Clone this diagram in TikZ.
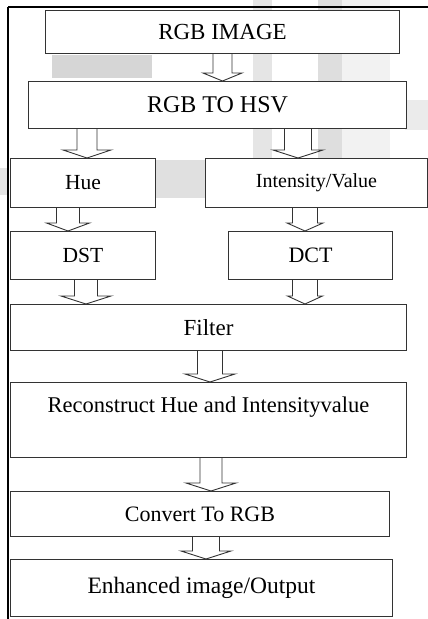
\documentclass[tikz,border=0pt]{standalone}
\usepackage{fontspec}
\setmainfont{Liberation Serif}
\usetikzlibrary{calc}
\newcommand\fs[1]{\fontsize{#1}{#1}\selectfont}
\tikzset{
  box/.style={draw=black!80, line width=1pt, fill=white, rectangle, inner sep=0pt},
  arr/.style={draw=black!80, line width=0.9pt, fill=white, line join=miter},
  wm/.style={fill=black!#1, draw=none}
}
% #1 x centre, #2 shaft half width, #3 head half width, #4 from node, #5 to node
\newcommand\hollow[5]{%
  \path (#1,0 |- #4.south) coordinate (hs) (#1,0 |- #5.north) coordinate (ht);
  \draw[arr] ($(hs)+(-#2,0)$) -- ($(ht)+(-#2,-8)$) -- ($(ht)+(-#3,-8)$) -- (ht)
     -- ($(ht)+(#3,-8)$) -- ($(ht)+(#2,-8)$) -- ($(hs)+(#2,0)$);
}
\begin{document}
\begin{tikzpicture}[x=1pt,y=-1pt]
\useasboundingbox (0,0) rectangle (428,619);
% faint watermark
\fill[wm=10] (253,0) rectangle (272,158);
\fill[wm=13] (318,0) rectangle (342,158);
\fill[wm=5] (342,0) rectangle (390,158);
\fill[wm=16] (52,55) rectangle (152,78);
\fill[wm=12] (155,160) rectangle (205,198);
\fill[wm=10] (0,168) rectangle (7,195);
\fill[wm=8] (405,100) rectangle (428,130);
% frame
\draw[line width=1.5pt] (8,7) -- (428,7);
\draw[line width=2.2pt] (8,7) -- (8,619);
% boxes
\node[box, anchor=north west, minimum width=354pt, minimum height=43pt] (img) at (45,10) {};
\node[box, anchor=north west, minimum width=378pt, minimum height=47pt] (hsv) at (28,81) {};
\node[box, anchor=north west, minimum width=145pt, minimum height=49pt] (hue) at (10,158) {};
\node[box, anchor=north west, minimum width=222pt, minimum height=49pt] (int) at (205,158) {};
\node[box, anchor=north west, minimum width=145pt, minimum height=48pt] (dst) at (10,231) {};
\node[box, anchor=north west, minimum width=164pt, minimum height=48pt] (dct) at (228,231) {};
\node[box, anchor=north west, minimum width=396pt, minimum height=46pt] (fil) at (10,304) {};
\node[box, anchor=north west, minimum width=396pt, minimum height=75pt] (rec) at (10,382) {};
\node[box, anchor=north west, minimum width=379pt, minimum height=45pt] (cnv) at (10,491) {};
\node[box, anchor=north west, minimum width=382pt, minimum height=57pt] (enh) at (10,559) {};
% texts
\node[font=\fs{23}] (timg) at (img.center) {RGB IMAGE};
\node[font=\fs{24}] (thsv) at (hsv.center) {RGB TO HSV};
\node[font=\fs{21.5}] (thue) at (hue.center) {Hue};
\node[font=\fs{20}] (tint) at (int.center) {Intensity/Value};
\node[font=\fs{21.5}] (tdst) at (dst.center) {DST};
\node[font=\fs{22}] (tdct) at (dct.center) {DCT};
\node[font=\fs{23}] (tfil) at (fil.center) {Filter};
\node[font=\fs{22.5}] (trec) at ($(rec.north)+(0,25)$) {Reconstruct Hue and Intensityvalue};
\node[font=\fs{22}] (tcnv) at (cnv.center) {Convert To RGB};
\node[font=\fs{23.5}] (tenh) at (enh.center) {Enhanced image/Output};
% hollow arrows
\hollow{222.5}{9.5}{19.5}{img}{hsv}
\hollow{87}{10}{24}{hsv}{hue}
\hollow{298}{13.5}{25}{hsv}{int}
\hollow{68}{11.5}{21.5}{hue}{dst}
\hollow{305}{12.5}{18}{int}{dct}
\hollow{86}{11.5}{25}{dst}{fil}
\hollow{305}{12.5}{17.5}{dct}{fil}
\hollow{210}{12.5}{25}{fil}{rec}
\hollow{211}{11}{25}{rec}{cnv}
\hollow{206}{13.5}{25}{cnv}{enh}
\end{tikzpicture}
\end{document}
